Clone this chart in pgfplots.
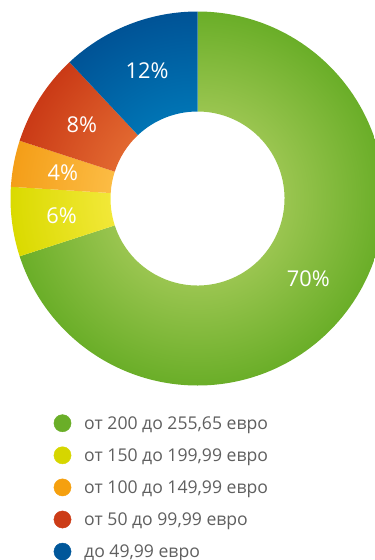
\documentclass[border=0pt]{standalone}
\usepackage{pgfplots}
\usepackage{pgfplotstable}
\pgfplotsset{compat=1.18}
\usepackage{fontspec}
\setmainfont{Open Sans}

\definecolor{gout}{HTML}{6AAE28}\definecolor{gin}{HTML}{9AC550}
\definecolor{yout}{HTML}{DADA00}\definecolor{yin}{HTML}{F2E838}
\definecolor{oout}{HTML}{F49E18}\definecolor{oin}{HTML}{FCBC44}
\definecolor{rout}{HTML}{CA3A16}\definecolor{rin}{HTML}{E26830}
\definecolor{bout}{HTML}{005396}\definecolor{bin}{HTML}{0074B4}
\definecolor{lgreen}{HTML}{6AAE28}
\definecolor{lyellow}{HTML}{D6D600}
\definecolor{lorange}{HTML}{F5A00F}
\definecolor{lred}{HTML}{CC3C17}
\definecolor{lblue}{HTML}{00579A}
\definecolor{legtxt}{HTML}{5F5F5F}

\pgfdeclareradialshading{shg}{\pgfpoint{0bp}{0bp}}{color(0bp)=(gin); color(11.6bp)=(gin); color(25bp)=(gout); color(50bp)=(gout)}
\pgfdeclareradialshading{shy}{\pgfpoint{0bp}{0bp}}{color(0bp)=(yin); color(11.6bp)=(yin); color(25bp)=(yout); color(50bp)=(yout)}
\pgfdeclareradialshading{sho}{\pgfpoint{0bp}{0bp}}{color(0bp)=(oin); color(11.6bp)=(oin); color(25bp)=(oout); color(50bp)=(oout)}
\pgfdeclareradialshading{shr}{\pgfpoint{0bp}{0bp}}{color(0bp)=(rin); color(11.6bp)=(rin); color(25bp)=(rout); color(50bp)=(rout)}
\pgfdeclareradialshading{shb}{\pgfpoint{0bp}{0bp}}{color(0bp)=(bin); color(11.6bp)=(bin); color(25bp)=(bout); color(50bp)=(bout)}

\newcommand\lblfont{\fontsize{21.8}{25}\selectfont}
\newcommand\legfont{\fontsize{17.6}{20}\selectfont}

\pgfplotstableread{
share shade
70 shg
6 shy
4 sho
8 shr
12 shb
}\piedata

\begin{document}
\begin{tikzpicture}
\begin{axis}[hide axis, scale only axis, width=375pt, height=560pt,
  xmin=0, xmax=375, ymin=0, ymax=560, y dir=reverse, clip=true]
\def\cx{197.5}\def\cy{198.5}
\def\startang{90}
\pgfplotsforeachungrouped \i in {0,...,4}{%
  \pgfplotstablegetelem{\i}{share}\of\piedata \let\v\pgfplotsretval
  \pgfplotstablegetelem{\i}{shade}\of\piedata \let\sh\pgfplotsretval
  \pgfmathsetmacro\endang{\startang-3.6*\v}%
  \pgfmathsetmacro\midang{(\startang+\endang)/2}%
  \edef\temp{%
    \noexpand\begin{scope}
    \noexpand\clip (axis cs:\cx,\cy) ++(\startang:187pt) arc[start angle=\startang, end angle=\endang, radius=187pt] -- ([shift={(\endang:87pt)}]axis cs:\cx,\cy) arc[start angle=\endang, end angle=\startang, radius=87pt] -- cycle;
    \noexpand\shade[shading=\sh] (axis cs:\cx,\cy) circle[radius=187pt];
    \noexpand\end{scope}
    \noexpand\node[text=white, font=\noexpand\lblfont] at ([shift={(\midang:137pt)}]axis cs:\cx,\cy) {\v\noexpand\%};
  }\temp
  \global\let\startang\endang
}
\addplot[only marks, mark=*, mark size=8.6pt, color=lgreen] coordinates {(62.5,423.2)};
\addplot[only marks, mark=*, mark size=8.6pt, color=lyellow] coordinates {(62.5,455.3)};
\addplot[only marks, mark=*, mark size=8.6pt, color=lorange] coordinates {(62.5,487.4)};
\addplot[only marks, mark=*, mark size=8.6pt, color=lred] coordinates {(62.5,519.5)};
\addplot[only marks, mark=*, mark size=8.6pt, color=lblue] coordinates {(62.5,551.6)};
\node[anchor=base west, text=legtxt, font=\legfont, inner sep=0pt] at (axis cs:84,429.5) {от 200 до 255,65 евро};
\node[anchor=base west, text=legtxt, font=\legfont, inner sep=0pt] at (axis cs:84,461.6) {от 150 до 199,99 евро};
\node[anchor=base west, text=legtxt, font=\legfont, inner sep=0pt] at (axis cs:84,493.7) {от 100 до 149,99 евро};
\node[anchor=base west, text=legtxt, font=\legfont, inner sep=0pt] at (axis cs:84,525.8) {от 50 до 99,99 евро};
\node[anchor=base west, text=legtxt, font=\legfont, inner sep=0pt] at (axis cs:84,557.9) {до 49,99 евро};
\end{axis}
\pgfresetboundingbox
\path[use as bounding box] (current axis.south west) rectangle (current axis.north east);
\end{tikzpicture}
\end{document}
